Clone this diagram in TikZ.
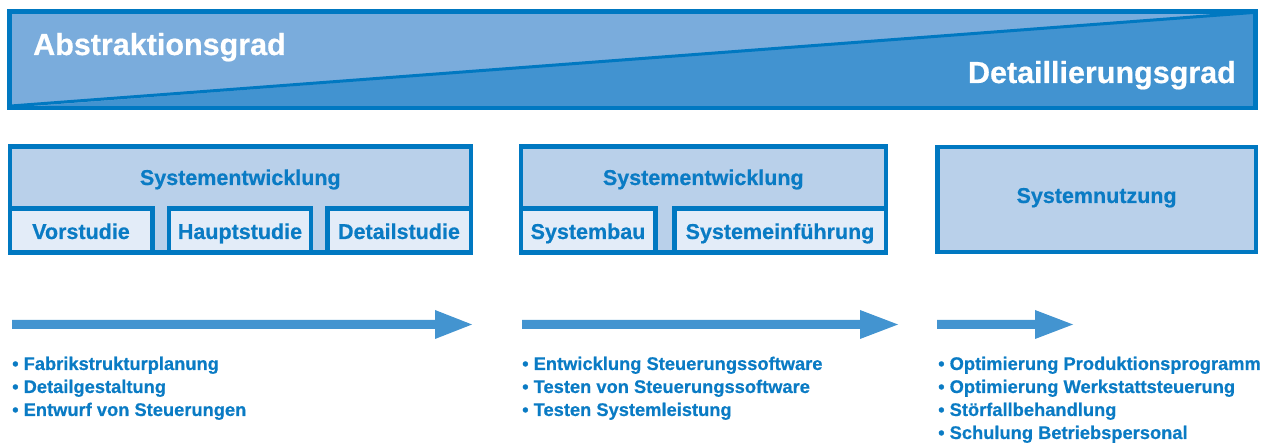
\documentclass[tikz,border=0pt]{standalone}
\usepackage{fontspec}
\setmainfont{Liberation Sans}[BoldFeatures={FakeBold=0.6}]
\definecolor{bord}{HTML}{0078C1}
\definecolor{banlight}{HTML}{7AACDC}
\definecolor{bandark}{HTML}{4293D0}
\definecolor{boxtop}{HTML}{B9D0EA}
\definecolor{boxsub}{HTML}{E3ECF8}
\definecolor{arr}{HTML}{4394D0}
\definecolor{txt}{HTML}{0A7BC4}
\begin{document}
\begin{tikzpicture}[x=1pt,y=-1pt,
  frame/.style={draw=bord,line width=4.6pt},
  toplbl/.style={anchor=base,inner sep=0pt,text=txt,font=\fontsize{21.5}{26}\selectfont\bfseries},
  banlbl/.style={inner sep=0pt,text=white,font=\fontsize{30.5}{36}\selectfont\bfseries},
  bullet/.style={anchor=base west,inner sep=0pt,text=txt,font=\fontsize{18.3}{23}\selectfont\bfseries},
  arrowshape/.style={fill=arr}]
\useasboundingbox (0,0) rectangle (1270,443);
% banner
\fill[bandark] (9.5,11.5) rectangle (1255.5,108);
\fill[banlight] (9.5,11.5) -- (1255.5,11.5) -- (9.5,108) -- cycle;
\draw[bord,line width=3pt] (11,106) -- (1253,12.5);
\draw[frame] (9.5,11.5) rectangle (1255.5,108);
\node[banlbl,anchor=base west] (abs) at (33,55) {Abstraktionsgrad};
\node[banlbl,anchor=base east] (det) at (1236,83) {Detaillierungsgrad};
% box 1
\draw[frame,fill=boxtop] (9.8,146.7) rectangle (470.8,252.5);
\draw[frame,fill=boxsub] (9.8,208.3) rectangle (152.5,252.5);
\draw[frame,fill=boxsub] (169,208.3) rectangle (310.8,252.5);
\draw[frame,fill=boxsub] (327.5,208.3) rectangle (470.8,252.5);
\node[toplbl] (se1) at (240.3,185) {Systementwicklung};
\node[toplbl] (vor) at (81,239) {Vorstudie};
\node[toplbl] (haupt) at (240,239) {Hauptstudie};
\node[toplbl] (detail) at (399,239) {Detailstudie};
% box 2
\draw[frame,fill=boxtop] (520.8,146.7) rectangle (885.8,252.5);
\draw[frame,fill=boxsub] (520.8,208.3) rectangle (655.2,252.5);
\draw[frame,fill=boxsub] (674.2,208.3) rectangle (885.8,252.5);
\node[toplbl] (se2) at (703.3,185) {Systementwicklung};
\node[toplbl] (bau) at (588,239) {Systembau};
\node[toplbl] (einf) at (780,239) {Systemeinführung};
% box 3
\draw[frame,fill=boxtop] (937.5,147) rectangle (1255.8,252.2);
\node[toplbl] (nutz) at (1096.6,203) {Systemnutzung};
% arrows
\fill[arrowshape] (12,320) -- (435,320) -- (435,310) -- (472,324.5) -- (435,339) -- (435,329) -- (12,329) -- cycle;
\fill[arrowshape] (522,320) -- (860,320) -- (860,310) -- (898,324.5) -- (860,339) -- (860,329) -- (522,329) -- cycle;
\fill[arrowshape] (937,320) -- (1035,320) -- (1035,310) -- (1073,324.5) -- (1035,339) -- (1035,329) -- (937,329) -- cycle;
% lists
\node[bullet] (a1) at (12,370) {• Fabrikstrukturplanung};
\node[bullet] (a2) at (12,393) {• Detailgestaltung};
\node[bullet] (a3) at (12,416) {• Entwurf von Steuerungen};
\node[bullet] (b1) at (522,370) {• Entwicklung Steuerungssoftware};
\node[bullet] (b2) at (522,393) {• Testen von Steuerungssoftware};
\node[bullet] (b3) at (522,416) {• Testen Systemleistung};
\node[bullet] (c1) at (938,370) {• Optimierung Produktionsprogramm};
\node[bullet] (c2) at (938,393) {• Optimierung Werkstattsteuerung};
\node[bullet] (c3) at (938,416) {• Störfallbehandlung};
\node[bullet] (c4) at (938,439) {• Schulung Betriebspersonal};
\end{tikzpicture}
\end{document}
